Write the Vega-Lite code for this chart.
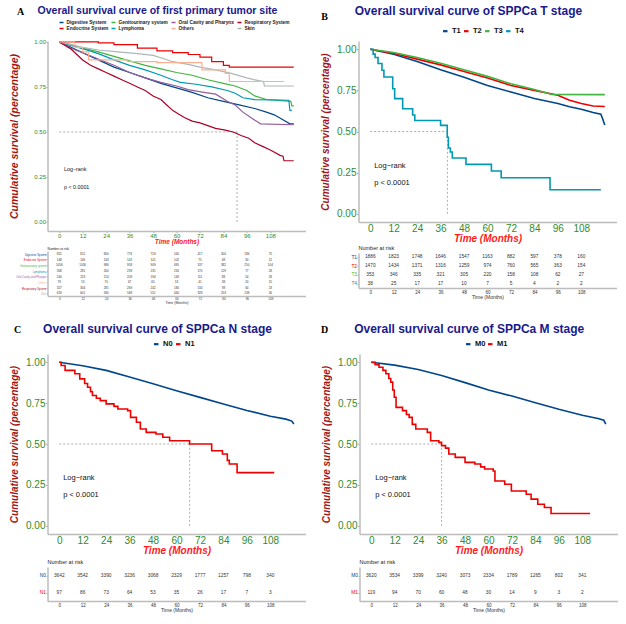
{
"$schema": "https://vega.github.io/schema/vega-lite/v6.json",
"padding": {"left": 8.5, "top": 4, "right": 4, "bottom": 4},
"datasets": {
"a_km": [
{"g":"Digestive System","t":0,"s":1},{"g":"Digestive System","t":6,"s":0.97},{"g":"Digestive System","t":12,"s":0.94},{"g":"Digestive System","t":20,"s":0.9},{"g":"Digestive System","t":28,"s":0.86},{"g":"Digestive System","t":36,"s":0.83},{"g":"Digestive System","t":44,"s":0.8},{"g":"Digestive System","t":52,"s":0.77},{"g":"Digestive System","t":60,"s":0.745},{"g":"Digestive System","t":68,"s":0.72},{"g":"Digestive System","t":76,"s":0.69},{"g":"Digestive System","t":84,"s":0.67},{"g":"Digestive System","t":92,"s":0.65},{"g":"Digestive System","t":100,"s":0.63},{"g":"Digestive System","t":106,"s":0.61},{"g":"Digestive System","t":110,"s":0.595},{"g":"Digestive System","t":114,"s":0.57},{"g":"Digestive System","t":118,"s":0.545},{"g":"Digestive System","t":120,"s":0.545},
{"g":"Endocrine System","t":0,"s":1},{"g":"Endocrine System","t":20,"s":0.995},{"g":"Endocrine System","t":28,"s":0.985},{"g":"Endocrine System","t":40,"s":0.965},{"g":"Endocrine System","t":50,"s":0.95},{"g":"Endocrine System","t":58,"s":0.94},{"g":"Endocrine System","t":66,"s":0.93},{"g":"Endocrine System","t":72,"s":0.915},{"g":"Endocrine System","t":78,"s":0.89},{"g":"Endocrine System","t":84,"s":0.87},{"g":"Endocrine System","t":87,"s":0.86},{"g":"Endocrine System","t":120,"s":0.86},
{"g":"Genitourinary system","t":0,"s":1},{"g":"Genitourinary system","t":6,"s":0.985},{"g":"Genitourinary system","t":12,"s":0.965},{"g":"Genitourinary system","t":20,"s":0.945},{"g":"Genitourinary system","t":28,"s":0.92},{"g":"Genitourinary system","t":36,"s":0.895},{"g":"Genitourinary system","t":44,"s":0.87},{"g":"Genitourinary system","t":52,"s":0.85},{"g":"Genitourinary system","t":60,"s":0.83},{"g":"Genitourinary system","t":68,"s":0.815},{"g":"Genitourinary system","t":76,"s":0.79},{"g":"Genitourinary system","t":84,"s":0.77},{"g":"Genitourinary system","t":90,"s":0.755},{"g":"Genitourinary system","t":96,"s":0.73},{"g":"Genitourinary system","t":100,"s":0.7},{"g":"Genitourinary system","t":106,"s":0.68},{"g":"Genitourinary system","t":112,"s":0.675},{"g":"Genitourinary system","t":118.5,"s":0.67},{"g":"Genitourinary system","t":119,"s":0.645},{"g":"Genitourinary system","t":120,"s":0.645},
{"g":"Lymphoma","t":0,"s":1},{"g":"Lymphoma","t":6,"s":0.98},{"g":"Lymphoma","t":12,"s":0.963},{"g":"Lymphoma","t":20,"s":0.935},{"g":"Lymphoma","t":28,"s":0.9},{"g":"Lymphoma","t":36,"s":0.87},{"g":"Lymphoma","t":44,"s":0.845},{"g":"Lymphoma","t":52,"s":0.815},{"g":"Lymphoma","t":58,"s":0.79},{"g":"Lymphoma","t":62,"s":0.775},{"g":"Lymphoma","t":70,"s":0.765},{"g":"Lymphoma","t":78,"s":0.75},{"g":"Lymphoma","t":86,"s":0.73},{"g":"Lymphoma","t":90,"s":0.715},{"g":"Lymphoma","t":94,"s":0.69},{"g":"Lymphoma","t":100,"s":0.68},{"g":"Lymphoma","t":117.5,"s":0.676},{"g":"Lymphoma","t":118,"s":0.62},{"g":"Lymphoma","t":119,"s":0.62},
{"g":"Oral Cavity and Pharynx","t":0,"s":1},{"g":"Oral Cavity and Pharynx","t":6,"s":0.965},{"g":"Oral Cavity and Pharynx","t":12,"s":0.94},{"g":"Oral Cavity and Pharynx","t":20,"s":0.905},{"g":"Oral Cavity and Pharynx","t":28,"s":0.87},{"g":"Oral Cavity and Pharynx","t":36,"s":0.83},{"g":"Oral Cavity and Pharynx","t":44,"s":0.8},{"g":"Oral Cavity and Pharynx","t":52,"s":0.775},{"g":"Oral Cavity and Pharynx","t":60,"s":0.755},{"g":"Oral Cavity and Pharynx","t":66,"s":0.735},{"g":"Oral Cavity and Pharynx","t":74,"s":0.72},{"g":"Oral Cavity and Pharynx","t":80,"s":0.71},{"g":"Oral Cavity and Pharynx","t":86,"s":0.67},{"g":"Oral Cavity and Pharynx","t":90,"s":0.65},{"g":"Oral Cavity and Pharynx","t":94,"s":0.61},{"g":"Oral Cavity and Pharynx","t":98,"s":0.58},{"g":"Oral Cavity and Pharynx","t":103,"s":0.545},{"g":"Oral Cavity and Pharynx","t":120,"s":0.54},
{"g":"Others","t":0,"s":1},{"g":"Others","t":8,"s":0.97},{"g":"Others","t":12,"s":0.945},{"g":"Others","t":15,"s":0.9},{"g":"Others","t":35,"s":0.89},{"g":"Others","t":50,"s":0.885},{"g":"Others","t":73,"s":0.845},{"g":"Others","t":85,"s":0.825},{"g":"Others","t":87,"s":0.78},{"g":"Others","t":115,"s":0.78},
{"g":"Respiratory System","t":0,"s":1},{"g":"Respiratory System","t":3,"s":0.98},{"g":"Respiratory System","t":6,"s":0.96},{"g":"Respiratory System","t":9,"s":0.93},{"g":"Respiratory System","t":12,"s":0.9},{"g":"Respiratory System","t":16,"s":0.87},{"g":"Respiratory System","t":20,"s":0.85},{"g":"Respiratory System","t":24,"s":0.83},{"g":"Respiratory System","t":28,"s":0.81},{"g":"Respiratory System","t":32,"s":0.79},{"g":"Respiratory System","t":36,"s":0.77},{"g":"Respiratory System","t":40,"s":0.75},{"g":"Respiratory System","t":44,"s":0.73},{"g":"Respiratory System","t":48,"s":0.7},{"g":"Respiratory System","t":52,"s":0.68},{"g":"Respiratory System","t":55,"s":0.65},{"g":"Respiratory System","t":58,"s":0.62},{"g":"Respiratory System","t":61,"s":0.6},{"g":"Respiratory System","t":64,"s":0.58},{"g":"Respiratory System","t":68,"s":0.56},{"g":"Respiratory System","t":72,"s":0.55},{"g":"Respiratory System","t":76,"s":0.535},{"g":"Respiratory System","t":80,"s":0.52},{"g":"Respiratory System","t":85,"s":0.51},{"g":"Respiratory System","t":89,"s":0.5},{"g":"Respiratory System","t":93,"s":0.48},{"g":"Respiratory System","t":97,"s":0.465},{"g":"Respiratory System","t":100,"s":0.44},{"g":"Respiratory System","t":104,"s":0.42},{"g":"Respiratory System","t":108,"s":0.4},{"g":"Respiratory System","t":113,"s":0.37},{"g":"Respiratory System","t":114.5,"s":0.365},{"g":"Respiratory System","t":115,"s":0.34},{"g":"Respiratory System","t":120,"s":0.34},
{"g":"Skin","t":0,"s":1},{"g":"Skin","t":6,"s":0.985},{"g":"Skin","t":12,"s":0.97},{"g":"Skin","t":20,"s":0.955},{"g":"Skin","t":30,"s":0.945},{"g":"Skin","t":40,"s":0.935},{"g":"Skin","t":48,"s":0.925},{"g":"Skin","t":54,"s":0.905},{"g":"Skin","t":58,"s":0.89},{"g":"Skin","t":66,"s":0.875},{"g":"Skin","t":72,"s":0.86},{"g":"Skin","t":80,"s":0.845},{"g":"Skin","t":88,"s":0.825},{"g":"Skin","t":96,"s":0.8},{"g":"Skin","t":102,"s":0.785},{"g":"Skin","t":104.5,"s":0.78},{"g":"Skin","t":105,"s":0.755},{"g":"Skin","t":120,"s":0.755}
],
"b_km": [
{"g":"T1","t":0,"s":1},{"g":"T1","t":6,"s":0.985},{"g":"T1","t":12,"s":0.97},{"g":"T1","t":24,"s":0.925},{"g":"T1","t":36,"s":0.875},{"g":"T1","t":48,"s":0.83},{"g":"T1","t":60,"s":0.78},{"g":"T1","t":72,"s":0.74},{"g":"T1","t":84,"s":0.7},{"g":"T1","t":96,"s":0.67},{"g":"T1","t":102,"s":0.65},{"g":"T1","t":108,"s":0.635},{"g":"T1","t":114,"s":0.615},{"g":"T1","t":118,"s":0.605},{"g":"T1","t":119,"s":0.575},{"g":"T1","t":120,"s":0.54},
{"g":"T2","t":0,"s":1},{"g":"T2","t":12,"s":0.975},{"g":"T2","t":24,"s":0.94},{"g":"T2","t":36,"s":0.905},{"g":"T2","t":48,"s":0.865},{"g":"T2","t":60,"s":0.825},{"g":"T2","t":72,"s":0.78},{"g":"T2","t":84,"s":0.75},{"g":"T2","t":96,"s":0.72},{"g":"T2","t":102,"s":0.69},{"g":"T2","t":108,"s":0.67},{"g":"T2","t":114,"s":0.655},{"g":"T2","t":120,"s":0.652},
{"g":"T3","t":0,"s":1},{"g":"T3","t":12,"s":0.98},{"g":"T3","t":24,"s":0.95},{"g":"T3","t":36,"s":0.915},{"g":"T3","t":48,"s":0.875},{"g":"T3","t":60,"s":0.835},{"g":"T3","t":72,"s":0.79},{"g":"T3","t":84,"s":0.755},{"g":"T3","t":93,"s":0.725},{"g":"T3","t":120,"s":0.724},
{"g":"T4","t":0,"s":1},{"g":"T4","t":1.5,"s":0.97},{"g":"T4","t":2.5,"s":0.95},{"g":"T4","t":4,"s":0.913},{"g":"T4","t":6,"s":0.872},{"g":"T4","t":7,"s":0.831},{"g":"T4","t":11.5,"s":0.76},{"g":"T4","t":12.5,"s":0.7},{"g":"T4","t":16.6,"s":0.638},{"g":"T4","t":21.7,"s":0.6},{"g":"T4","t":22.8,"s":0.567},{"g":"T4","t":36,"s":0.537},{"g":"T4","t":39.4,"s":0.465},{"g":"T4","t":40,"s":0.4},{"g":"T4","t":41,"s":0.375},{"g":"T4","t":42,"s":0.339},{"g":"T4","t":49,"s":0.3},{"g":"T4","t":62,"s":0.26},{"g":"T4","t":67,"s":0.219},{"g":"T4","t":92,"s":0.146},{"g":"T4","t":118,"s":0.146}
],
"c_km": [
{"g":"N0","t":0,"s":1},{"g":"N0","t":12,"s":0.978},{"g":"N0","t":24,"s":0.95},{"g":"N0","t":36,"s":0.91},{"g":"N0","t":48,"s":0.868},{"g":"N0","t":60,"s":0.826},{"g":"N0","t":72,"s":0.785},{"g":"N0","t":84,"s":0.745},{"g":"N0","t":96,"s":0.705},{"g":"N0","t":108,"s":0.67},{"g":"N0","t":116,"s":0.652},{"g":"N0","t":119,"s":0.64},{"g":"N0","t":120,"s":0.622},
{"g":"N1","t":0,"s":1},{"g":"N1","t":1,"s":0.98},{"g":"N1","t":3,"s":0.95},{"g":"N1","t":8,"s":0.929},{"g":"N1","t":10.5,"s":0.898},{"g":"N1","t":13,"s":0.87},{"g":"N1","t":14.5,"s":0.847},{"g":"N1","t":16,"s":0.82},{"g":"N1","t":17,"s":0.796},{"g":"N1","t":19,"s":0.78},{"g":"N1","t":21,"s":0.765},{"g":"N1","t":24,"s":0.745},{"g":"N1","t":28,"s":0.73},{"g":"N1","t":30,"s":0.714},{"g":"N1","t":35,"s":0.704},{"g":"N1","t":36.5,"s":0.663},{"g":"N1","t":39.5,"s":0.633},{"g":"N1","t":41.5,"s":0.592},{"g":"N1","t":44.5,"s":0.571},{"g":"N1","t":49.5,"s":0.561},{"g":"N1","t":53,"s":0.541},{"g":"N1","t":56.5,"s":0.52},{"g":"N1","t":66.7,"s":0.5},{"g":"N1","t":78,"s":0.459},{"g":"N1","t":83.5,"s":0.439},{"g":"N1","t":86,"s":0.4},{"g":"N1","t":87,"s":0.378},{"g":"N1","t":91,"s":0.325},{"g":"N1","t":110,"s":0.325}
],
"d_km": [
{"g":"M0","t":0,"s":1},{"g":"M0","t":12,"s":0.982},{"g":"M0","t":24,"s":0.955},{"g":"M0","t":36,"s":0.918},{"g":"M0","t":48,"s":0.875},{"g":"M0","t":60,"s":0.83},{"g":"M0","t":72,"s":0.793},{"g":"M0","t":84,"s":0.752},{"g":"M0","t":96,"s":0.712},{"g":"M0","t":108,"s":0.676},{"g":"M0","t":116,"s":0.656},{"g":"M0","t":119,"s":0.645},{"g":"M0","t":120,"s":0.622},
{"g":"M1","t":0,"s":1},{"g":"M1","t":2,"s":0.985},{"g":"M1","t":4,"s":0.969},{"g":"M1","t":6,"s":0.95},{"g":"M1","t":7.5,"s":0.929},{"g":"M1","t":9,"s":0.9},{"g":"M1","t":10,"s":0.878},{"g":"M1","t":11,"s":0.83},{"g":"M1","t":11.8,"s":0.786},{"g":"M1","t":12.7,"s":0.724},{"g":"M1","t":16,"s":0.704},{"g":"M1","t":18,"s":0.68},{"g":"M1","t":19.4,"s":0.663},{"g":"M1","t":21,"s":0.62},{"g":"M1","t":22.8,"s":0.592},{"g":"M1","t":28.7,"s":0.571},{"g":"M1","t":30.4,"s":0.52},{"g":"M1","t":34.6,"s":0.51},{"g":"M1","t":36,"s":0.49},{"g":"M1","t":38,"s":0.475},{"g":"M1","t":39.7,"s":0.439},{"g":"M1","t":43,"s":0.418},{"g":"M1","t":48,"s":0.388},{"g":"M1","t":53,"s":0.378},{"g":"M1","t":56,"s":0.36},{"g":"M1","t":58,"s":0.347},{"g":"M1","t":62.4,"s":0.335},{"g":"M1","t":63.3,"s":0.274},{"g":"M1","t":68.3,"s":0.254},{"g":"M1","t":71.7,"s":0.213},{"g":"M1","t":79.3,"s":0.193},{"g":"M1","t":81.8,"s":0.163},{"g":"M1","t":85.2,"s":0.132},{"g":"M1","t":88.6,"s":0.112},{"g":"M1","t":92,"s":0.075},{"g":"M1","t":112,"s":0.075}
],
"a_med": [{"t":0,"t2":91,"s":0.5,"s2":0.5},{"t":91,"t2":91,"s":0,"s2":0.5}],
"b_med": [{"t":0,"t2":39.5,"s":0.5,"s2":0.5},{"t":39.5,"t2":39.5,"s":0,"s2":0.5}],
"c_med": [{"t":0,"t2":66.7,"s":0.5,"s2":0.5},{"t":66.7,"t2":66.7,"s":0,"s2":0.5}],
"d_med": [{"t":0,"t2":36,"s":0.5,"s2":0.5},{"t":36,"t2":36,"s":0,"s2":0.5}],
"a_txt": [{"t":2.5,"s":0.294,"txt":"Log−rank"},{"t":2.5,"s":0.194,"txt":"p < 0.0001"}],
"bcd_txt": [{"t":2,"s":0.29,"txt":"Log−rank"},{"t":2,"s":0.19,"txt":"p < 0.0001"}],
"a_lab": [{"t":-19.7,"s":1.168,"txt":"A"}],
"b_lab": [{"t":-23.4,"s":1.196,"txt":"B"}],
"c_lab": [{"t":-21.3,"s":1.197,"txt":"C"}],
"d_lab": [{"t":-23.9,"s":1.197,"txt":"D"}],
"a_risk": [
{"g":"Digestive System","t":0,"n":815},{"g":"Digestive System","t":12,"n":811},{"g":"Digestive System","t":24,"n":800},{"g":"Digestive System","t":36,"n":776},{"g":"Digestive System","t":48,"n":753},{"g":"Digestive System","t":60,"n":540},{"g":"Digestive System","t":72,"n":417},{"g":"Digestive System","t":84,"n":304},{"g":"Digestive System","t":96,"n":186},{"g":"Digestive System","t":108,"n":75},
{"g":"Endocrine System","t":0,"n":148},{"g":"Endocrine System","t":12,"n":146},{"g":"Endocrine System","t":24,"n":143},{"g":"Endocrine System","t":36,"n":142},{"g":"Endocrine System","t":48,"n":141},{"g":"Endocrine System","t":60,"n":102},{"g":"Endocrine System","t":72,"n":75},{"g":"Endocrine System","t":84,"n":48},{"g":"Endocrine System","t":96,"n":30},{"g":"Endocrine System","t":108,"n":12},
{"g":"Genitourinary system","t":0,"n":1056},{"g":"Genitourinary system","t":12,"n":1030},{"g":"Genitourinary system","t":24,"n":986},{"g":"Genitourinary system","t":36,"n":958},{"g":"Genitourinary system","t":48,"n":909},{"g":"Genitourinary system","t":60,"n":695},{"g":"Genitourinary system","t":72,"n":537},{"g":"Genitourinary system","t":84,"n":382},{"g":"Genitourinary system","t":96,"n":250},{"g":"Genitourinary system","t":108,"n":104},
{"g":"Lymphoma","t":0,"n":308},{"g":"Lymphoma","t":12,"n":281},{"g":"Lymphoma","t":24,"n":260},{"g":"Lymphoma","t":36,"n":239},{"g":"Lymphoma","t":48,"n":231},{"g":"Lymphoma","t":60,"n":216},{"g":"Lymphoma","t":72,"n":170},{"g":"Lymphoma","t":84,"n":129},{"g":"Lymphoma","t":96,"n":77},{"g":"Lymphoma","t":108,"n":28},
{"g":"Oral Cavity and Pharynx","t":0,"n":240},{"g":"Oral Cavity and Pharynx","t":12,"n":223},{"g":"Oral Cavity and Pharynx","t":24,"n":214},{"g":"Oral Cavity and Pharynx","t":36,"n":209},{"g":"Oral Cavity and Pharynx","t":48,"n":194},{"g":"Oral Cavity and Pharynx","t":60,"n":149},{"g":"Oral Cavity and Pharynx","t":72,"n":111},{"g":"Oral Cavity and Pharynx","t":84,"n":88},{"g":"Oral Cavity and Pharynx","t":96,"n":54},{"g":"Oral Cavity and Pharynx","t":108,"n":18},
{"g":"Others","t":0,"n":79},{"g":"Others","t":12,"n":74},{"g":"Others","t":24,"n":70},{"g":"Others","t":36,"n":67},{"g":"Others","t":48,"n":65},{"g":"Others","t":60,"n":53},{"g":"Others","t":72,"n":41},{"g":"Others","t":84,"n":38},{"g":"Others","t":96,"n":20},{"g":"Others","t":108,"n":15},
{"g":"Respiratory System","t":0,"n":327},{"g":"Respiratory System","t":12,"n":304},{"g":"Respiratory System","t":24,"n":281},{"g":"Respiratory System","t":36,"n":269},{"g":"Respiratory System","t":48,"n":242},{"g":"Respiratory System","t":60,"n":180},{"g":"Respiratory System","t":72,"n":134},{"g":"Respiratory System","t":84,"n":98},{"g":"Respiratory System","t":96,"n":64},{"g":"Respiratory System","t":108,"n":23},
{"g":"Skin","t":0,"n":619},{"g":"Skin","t":12,"n":601},{"g":"Skin","t":24,"n":580},{"g":"Skin","t":36,"n":568},{"g":"Skin","t":48,"n":551},{"g":"Skin","t":60,"n":440},{"g":"Skin","t":72,"n":328},{"g":"Skin","t":84,"n":253},{"g":"Skin","t":96,"n":138},{"g":"Skin","t":108,"n":56}
],
"b_risk": [
{"g":"T1","t":0,"n":1886},{"g":"T1","t":12,"n":1823},{"g":"T1","t":24,"n":1748},{"g":"T1","t":36,"n":1646},{"g":"T1","t":48,"n":1547},{"g":"T1","t":60,"n":1163},{"g":"T1","t":72,"n":882},{"g":"T1","t":84,"n":597},{"g":"T1","t":96,"n":378},{"g":"T1","t":108,"n":160},
{"g":"T2","t":0,"n":1470},{"g":"T2","t":12,"n":1434},{"g":"T2","t":24,"n":1371},{"g":"T2","t":36,"n":1316},{"g":"T2","t":48,"n":1259},{"g":"T2","t":60,"n":974},{"g":"T2","t":72,"n":760},{"g":"T2","t":84,"n":565},{"g":"T2","t":96,"n":363},{"g":"T2","t":108,"n":154},
{"g":"T3","t":0,"n":353},{"g":"T3","t":12,"n":346},{"g":"T3","t":24,"n":335},{"g":"T3","t":36,"n":321},{"g":"T3","t":48,"n":305},{"g":"T3","t":60,"n":220},{"g":"T3","t":72,"n":158},{"g":"T3","t":84,"n":108},{"g":"T3","t":96,"n":62},{"g":"T3","t":108,"n":27},
{"g":"T4","t":0,"n":38},{"g":"T4","t":12,"n":25},{"g":"T4","t":24,"n":17},{"g":"T4","t":36,"n":17},{"g":"T4","t":48,"n":10},{"g":"T4","t":60,"n":7},{"g":"T4","t":72,"n":5},{"g":"T4","t":84,"n":4},{"g":"T4","t":96,"n":2},{"g":"T4","t":108,"n":2}
],
"c_risk": [
{"g":"N0","t":0,"n":3642},{"g":"N0","t":12,"n":3542},{"g":"N0","t":24,"n":3390},{"g":"N0","t":36,"n":3236},{"g":"N0","t":48,"n":3068},{"g":"N0","t":60,"n":2329},{"g":"N0","t":72,"n":1777},{"g":"N0","t":84,"n":1257},{"g":"N0","t":96,"n":798},{"g":"N0","t":108,"n":340},
{"g":"N1","t":0,"n":97},{"g":"N1","t":12,"n":86},{"g":"N1","t":24,"n":73},{"g":"N1","t":36,"n":64},{"g":"N1","t":48,"n":53},{"g":"N1","t":60,"n":35},{"g":"N1","t":72,"n":26},{"g":"N1","t":84,"n":17},{"g":"N1","t":96,"n":7},{"g":"N1","t":108,"n":3}
],
"d_risk": [
{"g":"M0","t":0,"n":3620},{"g":"M0","t":12,"n":3534},{"g":"M0","t":24,"n":3399},{"g":"M0","t":36,"n":3240},{"g":"M0","t":48,"n":3073},{"g":"M0","t":60,"n":2334},{"g":"M0","t":72,"n":1789},{"g":"M0","t":84,"n":1265},{"g":"M0","t":96,"n":802},{"g":"M0","t":108,"n":341},
{"g":"M1","t":0,"n":119},{"g":"M1","t":12,"n":94},{"g":"M1","t":24,"n":70},{"g":"M1","t":36,"n":60},{"g":"M1","t":48,"n":48},{"g":"M1","t":60,"n":30},{"g":"M1","t":72,"n":14},{"g":"M1","t":84,"n":9},{"g":"M1","t":96,"n":3},{"g":"M1","t":108,"n":2}
]
},
"config": {
"font": "Liberation Sans",
"view": {"stroke": null},
"axis": {"grid": false, "domainColor": "#BDBDBD", "domainWidth": 1.5, "tickColor": "#8C8C8C", "tickWidth": 0.7},
"title": {"color": "#1A1A8C", "fontWeight": "bold", "frame": "bounds"},
"legend": {"padding": 0}
},
"resolve": {"scale": {"color": "independent"}, "legend": {"color": "independent"}},
"spacing": 17,
"vconcat": [
{"resolve": {"scale": {"color": "independent"}, "legend": {"color": "independent"}},
"hconcat": [
{"spacing": 1, "vconcat": [
{"width": 258, "height": 190,
"title": {"text": "Overall survival curve of first primary tumor site", "fontSize": 10.5, "offset": -10, "frame": "bounds"},
"encoding": {
"x": {"field": "t", "type": "quantitative", "scale": {"domain": [-6, 126], "nice": false, "zero": false},
"axis": {"values": [0,12,24,36,48,60,72,84,96,108], "labelColor": "#2E8B2E", "labelFontSize": 6, "labelPadding": 0, "tickSize": 1.5, "title": "Time (Months)", "titleColor": "#FF1A1A", "titleFontSize": 6.5, "titleFontStyle": "italic", "titleFontWeight": "bold", "titlePadding": 0}},
"y": {"field": "s", "type": "quantitative", "scale": {"domain": [-0.05, 1.005], "nice": false, "zero": false},
"axis": {"values": [0,0.25,0.5,0.75,1], "format": ".2f", "labelColor": "#2E8B2E", "labelFontSize": 6, "labelPadding": 0.5, "tickSize": 1.5, "minExtent": 14, "maxExtent": 14, "title": "Cumulative survival (percentage)", "titleColor": "#A31515", "titleFontSize": 10.5, "titleFontStyle": "italic", "titleFontWeight": "bold", "titlePadding": 14}}
},
"layer": [
{"data": {"name": "a_med"}, "mark": {"type": "rule", "color": "#777777", "strokeDash": [2, 2], "strokeWidth": 0.6}, "encoding": {"x2": {"field": "t2"}, "y2": {"field": "s2"}}},
{"data": {"name": "a_km"}, "transform": [{"filter": "datum.g != 'Endocrine System' && datum.g != 'Others'"}],
"mark": {"type": "line", "strokeWidth": 1.2},
"encoding": {"color": {"field": "g", "type": "nominal",
"scale": {"domain": ["Digestive System","Genitourinary system","Oral Cavity and Pharynx","Respiratory System","Endocrine System","Lymphoma","Others","Skin"], "range": ["#00468B","#42B540","#925E9F","#AD002A","#ED0000","#0099B4","#FDAF91","#ADB6B6"]},
"legend": {"orient": "none", "legendX": 11, "legendY": -21.5, "direction": "horizontal", "columns": 4, "title": null, "symbolType": "stroke", "symbolSize": 16, "symbolStrokeWidth": 1.5, "labelFontSize": 4.8, "labelFontWeight": "bold", "labelColor": "#222222", "labelOffset": 2, "columnPadding": 0, "rowPadding": 0}}}},
{"data": {"name": "a_km"}, "transform": [{"filter": "datum.g == 'Endocrine System' || datum.g == 'Others'"}],
"mark": {"type": "line", "interpolate": "step-after", "strokeWidth": 1.2},
"encoding": {"color": {"field": "g", "type": "nominal"}}},
{"data": {"name": "a_txt"}, "mark": {"type": "text", "align": "left", "fontSize": 5.3, "color": "#111111"}, "encoding": {"text": {"field": "txt"}}},
{"data": {"name": "a_lab"}, "mark": {"type": "text", "font": "Liberation Serif", "fontWeight": "bold", "fontSize": 10, "color": "#000000"}, "encoding": {"text": {"field": "txt"}}}
]},
{"width": 258, "height": 45,
"title": {"text": "Number at risk", "anchor": "start", "frame": "group", "fontSize": 3.3, "fontWeight": "normal", "color": "#222222", "offset": 1},
"data": {"name": "a_risk"},
"mark": {"type": "text", "fontSize": 3, "color": "#333333"},
"encoding": {
"x": {"field": "t", "type": "quantitative", "scale": {"domain": [-6, 126], "nice": false, "zero": false},
"axis": {"values": [0,12,24,36,48,60,72,84,96,108], "labelFontSize": 3, "labelColor": "#333333", "labelPadding": 0, "tickSize": 1, "title": "Time (Months)", "titleFontSize": 3.6, "titleFontWeight": "normal", "titleColor": "#333333", "titlePadding": 0.5}},
"y": {"field": "g", "type": "nominal", "sort": ["Digestive System","Endocrine System","Genitourinary system","Lymphoma","Oral Cavity and Pharynx","Others","Respiratory System","Skin"],
"axis": {"title": null, "labelFontSize": 2.8, "tickSize": 1, "labelPadding": 0.5, "minExtent": 38.5, "maxExtent": 38.5,
"labelColor": {"condition": [{"test": "datum.value == 'Digestive System'", "value": "#00468B"}, {"test": "datum.value == 'Endocrine System'", "value": "#ED0000"}, {"test": "datum.value == 'Genitourinary system'", "value": "#42B540"}, {"test": "datum.value == 'Lymphoma'", "value": "#0099B4"}, {"test": "datum.value == 'Oral Cavity and Pharynx'", "value": "#925E9F"}, {"test": "datum.value == 'Others'", "value": "#FDAF91"}, {"test": "datum.value == 'Respiratory System'", "value": "#AD002A"}], "value": "#ADB6B6"}}},
"text": {"field": "n"}
}}
]},
{"spacing": 2, "vconcat": [
{"width": 258, "height": 181,
"title": {"text": "Overall survival curve of SPPCa T stage", "fontSize": 12, "offset": -6, "frame": "bounds"},
"encoding": {
"x": {"field": "t", "type": "quantitative", "scale": {"domain": [-6, 126], "nice": false, "zero": false},
"axis": {"values": [0,12,24,36,48,60,72,84,96,108], "labelColor": "#2E8B2E", "labelFontSize": 10, "labelPadding": 0, "tickSize": 1, "title": "Time (Months)", "titleColor": "#FF1A1A", "titleFontSize": 10, "titleFontStyle": "italic", "titleFontWeight": "bold", "titlePadding": 0}},
"y": {"field": "s", "type": "quantitative", "scale": {"domain": [-0.05, 1.05], "nice": false, "zero": false},
"axis": {"values": [0,0.25,0.5,0.75,1], "format": ".2f", "labelColor": "#2E8B2E", "labelFontSize": 10, "labelPadding": 0.5, "tickSize": 2, "minExtent": 22, "maxExtent": 22, "title": "Cumulative survival (percentage)", "titleColor": "#A31515", "titleFontSize": 10, "titleFontStyle": "italic", "titleFontWeight": "bold", "titlePadding": 6}}
},
"layer": [
{"data": {"name": "b_med"}, "mark": {"type": "rule", "color": "#777777", "strokeDash": [2, 2], "strokeWidth": 0.6}, "encoding": {"x2": {"field": "t2"}, "y2": {"field": "s2"}}},
{"data": {"name": "b_km"}, "transform": [{"filter": "datum.g != 'T4'"}],
"mark": {"type": "line", "strokeWidth": 1.6},
"encoding": {"color": {"field": "g", "type": "nominal",
"scale": {"domain": ["T1","T2","T3","T4"], "range": ["#00468B","#ED0000","#42B540","#0099B4"]},
"legend": {"orient": "none", "legendX": 83, "legendY": -14, "direction": "horizontal", "title": null, "symbolType": "stroke", "symbolSize": 20, "symbolStrokeWidth": 2.2, "labelFontSize": 7.5, "labelFontWeight": "bold", "labelColor": "#111111", "labelOffset": 3, "columnPadding": -2}}}},
{"data": {"name": "b_km"}, "transform": [{"filter": "datum.g == 'T4'"}],
"mark": {"type": "line", "interpolate": "step-after", "strokeWidth": 1.6},
"encoding": {"color": {"field": "g", "type": "nominal"}}},
{"data": {"name": "bcd_txt"}, "mark": {"type": "text", "align": "left", "fontSize": 7.5, "color": "#111111"}, "encoding": {"text": {"field": "txt"}}},
{"data": {"name": "b_lab"}, "mark": {"type": "text", "font": "Liberation Serif", "fontWeight": "bold", "fontSize": 10, "color": "#000000"}, "encoding": {"text": {"field": "txt"}}}
]},
{"width": 258, "height": 35,
"title": {"text": "Number at risk", "anchor": "start", "frame": "group", "fontSize": 5.5, "fontWeight": "normal", "color": "#222222", "offset": 2},
"data": {"name": "b_risk"},
"mark": {"type": "text", "fontSize": 4.8, "color": "#333333"},
"encoding": {
"x": {"field": "t", "type": "quantitative", "scale": {"domain": [-6, 126], "nice": false, "zero": false},
"axis": {"values": [0,12,24,36,48,60,72,84,96,108], "labelFontSize": 4.5, "labelColor": "#333333", "labelPadding": 0, "tickSize": 1, "title": "Time (Months)", "titleFontSize": 5, "titleFontWeight": "normal", "titleColor": "#333333", "titlePadding": 1}},
"y": {"field": "g", "type": "nominal", "sort": ["T1","T2","T3","T4"],
"axis": {"title": null, "labelFontSize": 4.8, "tickSize": 1.5, "labelPadding": 0.5, "minExtent": 38, "maxExtent": 38,
"labelColor": {"condition": [{"test": "datum.value == 'T1'", "value": "#00468B"}, {"test": "datum.value == 'T2'", "value": "#ED0000"}, {"test": "datum.value == 'T3'", "value": "#42B540"}], "value": "#0099B4"}}},
"text": {"field": "n"}
}}
]}
], "spacing": 15},
{"resolve": {"scale": {"color": "independent"}, "legend": {"color": "independent"}},
"hconcat": [
{"spacing": 4, "vconcat": [
{"width": 258, "height": 180,
"title": {"text": "Overall survival curve of SPPCa N stage", "fontSize": 12, "offset": -11, "frame": "bounds"},
"encoding": {
"x": {"field": "t", "type": "quantitative", "scale": {"domain": [-6, 126], "nice": false, "zero": false},
"axis": {"values": [0,12,24,36,48,60,72,84,96,108], "labelColor": "#2E8B2E", "labelFontSize": 10, "labelPadding": 0, "tickSize": 1, "title": "Time (Months)", "titleColor": "#FF1A1A", "titleFontSize": 10, "titleFontStyle": "italic", "titleFontWeight": "bold", "titlePadding": 0}},
"y": {"field": "s", "type": "quantitative", "scale": {"domain": [-0.05, 1.05], "nice": false, "zero": false},
"axis": {"values": [0,0.25,0.5,0.75,1], "format": ".2f", "labelColor": "#2E8B2E", "labelFontSize": 10, "labelPadding": 0.5, "tickSize": 2, "minExtent": 22, "maxExtent": 22, "title": "Cumulative survival (percentage)", "titleColor": "#A31515", "titleFontSize": 10, "titleFontStyle": "italic", "titleFontWeight": "bold", "titlePadding": 6}}
},
"layer": [
{"data": {"name": "c_med"}, "mark": {"type": "rule", "color": "#777777", "strokeDash": [2, 2], "strokeWidth": 0.6}, "encoding": {"x2": {"field": "t2"}, "y2": {"field": "s2"}}},
{"data": {"name": "c_km"}, "transform": [{"filter": "datum.g == 'N0'"}],
"mark": {"type": "line", "strokeWidth": 1.6},
"encoding": {"color": {"field": "g", "type": "nominal",
"scale": {"domain": ["N0","N1"], "range": ["#00468B","#ED0000"]},
"legend": {"orient": "none", "legendX": 105, "legendY": -14, "direction": "horizontal", "title": null, "symbolType": "stroke", "symbolSize": 20, "symbolStrokeWidth": 2.2, "labelFontSize": 7.5, "labelFontWeight": "bold", "labelColor": "#111111", "labelOffset": 3, "columnPadding": -2}}}},
{"data": {"name": "c_km"}, "transform": [{"filter": "datum.g == 'N1'"}],
"mark": {"type": "line", "interpolate": "step-after", "strokeWidth": 1.6},
"encoding": {"color": {"field": "g", "type": "nominal"}}},
{"data": {"name": "bcd_txt"}, "mark": {"type": "text", "align": "left", "fontSize": 7.5, "color": "#111111"}, "encoding": {"text": {"field": "txt"}}},
{"data": {"name": "c_lab"}, "mark": {"type": "text", "font": "Liberation Serif", "fontWeight": "bold", "fontSize": 10, "color": "#000000"}, "encoding": {"text": {"field": "txt"}}}
]},
{"width": 258, "height": 34,
"title": {"text": "Number at risk", "anchor": "start", "frame": "group", "fontSize": 5.5, "fontWeight": "normal", "color": "#222222", "offset": 2},
"data": {"name": "c_risk"},
"mark": {"type": "text", "fontSize": 4.8, "color": "#333333"},
"encoding": {
"x": {"field": "t", "type": "quantitative", "scale": {"domain": [-6, 126], "nice": false, "zero": false},
"axis": {"values": [0,12,24,36,48,60,72,84,96,108], "labelFontSize": 4.5, "labelColor": "#333333", "labelPadding": 0, "tickSize": 1, "title": "Time (Months)", "titleFontSize": 5, "titleFontWeight": "normal", "titleColor": "#333333", "titlePadding": 1}},
"y": {"field": "g", "type": "nominal", "sort": ["N0","N1"],
"axis": {"title": null, "labelFontSize": 4.8, "tickSize": 1.5, "labelPadding": 0.5, "minExtent": 38, "maxExtent": 38,
"labelColor": {"condition": {"test": "datum.value == 'N0'", "value": "#00468B"}, "value": "#ED0000"}}},
"text": {"field": "n"}
}}
]},
{"spacing": 4, "vconcat": [
{"width": 258, "height": 180,
"title": {"text": "Overall survival curve of SPPCa M stage", "fontSize": 12, "offset": -11, "frame": "bounds"},
"encoding": {
"x": {"field": "t", "type": "quantitative", "scale": {"domain": [-6, 126], "nice": false, "zero": false},
"axis": {"values": [0,12,24,36,48,60,72,84,96,108], "labelColor": "#2E8B2E", "labelFontSize": 10, "labelPadding": 0, "tickSize": 1, "title": "Time (Months)", "titleColor": "#FF1A1A", "titleFontSize": 10, "titleFontStyle": "italic", "titleFontWeight": "bold", "titlePadding": 0}},
"y": {"field": "s", "type": "quantitative", "scale": {"domain": [-0.05, 1.05], "nice": false, "zero": false},
"axis": {"values": [0,0.25,0.5,0.75,1], "format": ".2f", "labelColor": "#2E8B2E", "labelFontSize": 10, "labelPadding": 0.5, "tickSize": 2, "minExtent": 22, "maxExtent": 22, "title": "Cumulative survival (percentage)", "titleColor": "#A31515", "titleFontSize": 10, "titleFontStyle": "italic", "titleFontWeight": "bold", "titlePadding": 6}}
},
"layer": [
{"data": {"name": "d_med"}, "mark": {"type": "rule", "color": "#777777", "strokeDash": [2, 2], "strokeWidth": 0.6}, "encoding": {"x2": {"field": "t2"}, "y2": {"field": "s2"}}},
{"data": {"name": "d_km"}, "transform": [{"filter": "datum.g == 'M0'"}],
"mark": {"type": "line", "strokeWidth": 1.6},
"encoding": {"color": {"field": "g", "type": "nominal",
"scale": {"domain": ["M0","M1"], "range": ["#00468B","#ED0000"]},
"legend": {"orient": "none", "legendX": 105, "legendY": -14, "direction": "horizontal", "title": null, "symbolType": "stroke", "symbolSize": 20, "symbolStrokeWidth": 2.2, "labelFontSize": 7.5, "labelFontWeight": "bold", "labelColor": "#111111", "labelOffset": 3, "columnPadding": -2}}}},
{"data": {"name": "d_km"}, "transform": [{"filter": "datum.g == 'M1'"}],
"mark": {"type": "line", "interpolate": "step-after", "strokeWidth": 1.6},
"encoding": {"color": {"field": "g", "type": "nominal"}}},
{"data": {"name": "bcd_txt"}, "mark": {"type": "text", "align": "left", "fontSize": 7.5, "color": "#111111"}, "encoding": {"text": {"field": "txt"}}},
{"data": {"name": "d_lab"}, "mark": {"type": "text", "font": "Liberation Serif", "fontWeight": "bold", "fontSize": 10, "color": "#000000"}, "encoding": {"text": {"field": "txt"}}}
]},
{"width": 258, "height": 34,
"title": {"text": "Number at risk", "anchor": "start", "frame": "group", "fontSize": 5.5, "fontWeight": "normal", "color": "#222222", "offset": 2},
"data": {"name": "d_risk"},
"mark": {"type": "text", "fontSize": 4.8, "color": "#333333"},
"encoding": {
"x": {"field": "t", "type": "quantitative", "scale": {"domain": [-6, 126], "nice": false, "zero": false},
"axis": {"values": [0,12,24,36,48,60,72,84,96,108], "labelFontSize": 4.5, "labelColor": "#333333", "labelPadding": 0, "tickSize": 1, "title": "Time (Months)", "titleFontSize": 5, "titleFontWeight": "normal", "titleColor": "#333333", "titlePadding": 1}},
"y": {"field": "g", "type": "nominal", "sort": ["M0","M1"],
"axis": {"title": null, "labelFontSize": 4.8, "tickSize": 1.5, "labelPadding": 0.5, "minExtent": 38, "maxExtent": 38,
"labelColor": {"condition": {"test": "datum.value == 'M0'", "value": "#00468B"}, "value": "#ED0000"}}},
"text": {"field": "n"}
}}
]}
], "spacing": 15}
]
}
